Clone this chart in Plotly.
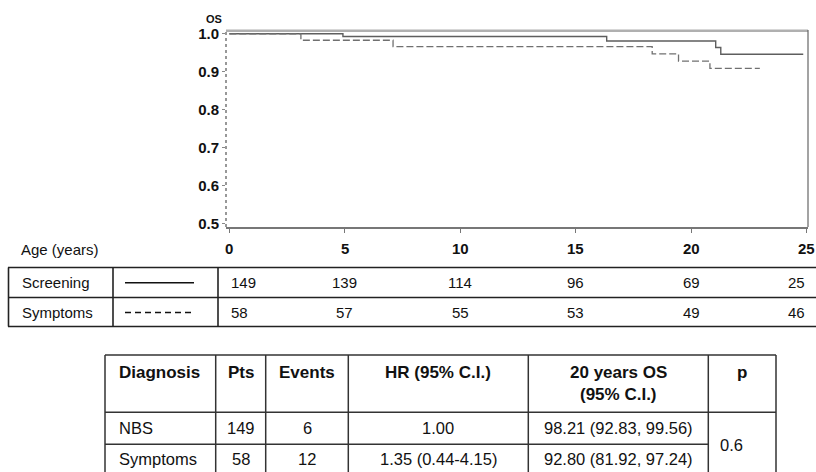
import plotly.graph_objects as go

# ---------------- data ----------------
screen_t = [0, 4.92, 16.34, 21.06, 21.28, 24.85]
screen_s = [1.0, 0.993, 0.981, 0.964, 0.946, 0.946]
sympt_t = [0, 3.1, 7.09, 18.31, 19.45, 20.81, 22.97]
sympt_s = [1.0, 0.983, 0.966, 0.947, 0.928, 0.909, 0.909]

risk_times = [0, 5, 10, 15, 20, 25]
risk_ticklabels = ["0", "5", "10", "15", "20", "25"]
risk_screen = [149, 139, 114, 96, 69, 25]
risk_sympt = [58, 57, 55, 53, 49, 46]
risk_groups = ["Screening", "Symptoms"]

y_ticks = [0.5, 0.6, 0.7, 0.8, 0.9, 1.0]
y_ticklabels = ["0.5", "0.6", "0.7", "0.8", "0.9", "1.0"]

tab_header = ["Diagnosis", "Pts", "Events", "HR (95% C.I.)", "20 years OS", "p"]
tab_header2 = ["", "", "", "", "(95% C.I.)", ""]
tab_diag = ["NBS", "Symptoms"]
tab_pts = ["149", "58"]
tab_events = ["6", "12"]
tab_hr = ["1.00", "1.35 (0.44-4.15)"]
tab_os20 = ["98.21 (92.83, 99.56)", "92.80 (81.92, 97.24)"]
tab_p = "0.6"

# ---------------- geometry helpers ----------------
W, H = 816, 472
PL, PR, PT, PB = 226, 808, 30, 227          # plot area in pixels
ML, MT = PL, PT
MR = W - PR
MB = H - PB
PW = PR - PL
PH = PB - PT
FONT = "Liberation Sans, Arial, sans-serif"


def px(X):
    return (X - PL) / PW


def py(Y):
    return (PB - Y) / PH


fig = go.Figure()
fig.add_trace(go.Scatter(x=screen_t, y=screen_s, mode="lines", line_shape="hv",
                         line=dict(color="#5e5e5e", width=1.4), showlegend=False,
                         name="Screening"))
fig.add_trace(go.Scatter(x=sympt_t, y=sympt_s, mode="lines", line_shape="hv",
                         line=dict(color="#707070", width=1.3, dash="7px,3px"),
                         showlegend=False, name="Symptoms"))

shapes = []
ann = []

# plot frame pieces
shapes.append(dict(type="line", xref="paper", yref="paper", x0=0, x1=1, y0=py(30.8), y1=py(30.8),
                   line=dict(color="#b0b0b0", width=2.4)))
shapes.append(dict(type="line", xref="paper", yref="paper", x0=1, x1=1, y0=0, y1=py(30),
                   line=dict(color="#666666", width=1.2)))
shapes.append(dict(type="line", xref="paper", yref="paper", x0=0, x1=0, y0=0, y1=py(30),
                   line=dict(color="#777777", width=1.5, dash="dot")))

ann.append(dict(text="<b>OS</b>", xref="paper", yref="paper", x=px(214), y=py(19),
                showarrow=False, xanchor="center", yanchor="middle",
                font=dict(family=FONT, size=11, color="#111")))

# x tick labels (placed on the x axis scale)
for t, lab in zip(risk_times, risk_ticklabels):
    ann.append(dict(text=lab, xref="x", yref="paper", x=t, y=py(248),
                    showarrow=False, xanchor="center", yanchor="middle",
                    font=dict(family=FONT, size=15, color="#111", weight="bold")))

# ---------------- risk table ----------------
rt_top, rt_mid, rt_bot = 267.5, 297.5, 326.5
for Y in (rt_top, rt_mid, rt_bot):
    shapes.append(dict(type="line", xref="paper", yref="paper", x0=px(8), x1=px(816),
                       y0=py(Y), y1=py(Y), line=dict(color="#222", width=1.6)))
for X in (8.5, 113, 218):
    shapes.append(dict(type="line", xref="paper", yref="paper", x0=px(X), x1=px(X),
                       y0=py(rt_top), y1=py(rt_bot), line=dict(color="#222", width=1.6)))

ann.append(dict(text="Age (years)", xref="paper", yref="paper", x=px(19), y=py(249),
                showarrow=False, xanchor="left", yanchor="middle",
                font=dict(family=FONT, size=15, color="#111")))

row_y = [282.8, 312.5]
for g, Yc in zip(risk_groups, row_y):
    ann.append(dict(text=g, xref="paper", yref="paper", x=px(20), y=py(Yc),
                    showarrow=False, xanchor="left", yanchor="middle",
                    font=dict(family=FONT, size=15, color="#111")))
shapes.append(dict(type="line", xref="paper", yref="paper", x0=px(125), x1=px(194),
                   y0=py(row_y[0]), y1=py(row_y[0]), line=dict(color="#111", width=1.6)))
shapes.append(dict(type="line", xref="paper", yref="paper", x0=px(125), x1=px(194),
                   y0=py(row_y[1]), y1=py(row_y[1]),
                   line=dict(color="#111", width=1.6, dash="6px,4px")))

for vals, Yc in ((risk_screen, row_y[0]), (risk_sympt, row_y[1])):
    for i, (t, v) in enumerate(zip(risk_times, vals)):
        anchor = "left" if i == 0 else ("right" if i == len(risk_times) - 1 else "center")
        ann.append(dict(text=str(v), xref="x", yref="paper", x=t, y=py(Yc),
                        showarrow=False, xanchor=anchor, yanchor="middle",
                        font=dict(family=FONT, size=15, color="#111")))

# ---------------- summary table ----------------
cols = [105, 215.7, 265.7, 348.3, 528.3, 708.3, 776]
t_top, t_head, t_sep, t_bot = 355, 412.3, 444.3, 490
for X in cols:
    shapes.append(dict(type="line", xref="paper", yref="paper", x0=px(X), x1=px(X),
                       y0=py(t_top), y1=py(t_bot), line=dict(color="#333", width=1.5)))
shapes.append(dict(type="line", xref="paper", yref="paper", x0=px(cols[0]), x1=px(cols[-1]),
                   y0=py(t_top), y1=py(t_top), line=dict(color="#333", width=1.5)))
shapes.append(dict(type="line", xref="paper", yref="paper", x0=px(cols[0]), x1=px(cols[-1]),
                   y0=py(t_head), y1=py(t_head), line=dict(color="#333", width=1.5)))
shapes.append(dict(type="line", xref="paper", yref="paper", x0=px(cols[0]), x1=px(cols[5]),
                   y0=py(t_sep), y1=py(t_sep), line=dict(color="#333", width=1.5)))

centers = [(cols[i] + cols[i + 1]) / 2 for i in range(len(cols) - 1)]
head_font = dict(family=FONT, size=17, color="#111", weight="bold")
body_font = dict(family=FONT, size=16.5, color="#111")

for i, (h1, h2) in enumerate(zip(tab_header, tab_header2)):
    if i == 0:
        xa, X = "left", 117
    else:
        xa, X = "center", centers[i]
    ann.append(dict(text=h1, xref="paper", yref="paper", x=px(X), y=py(372.5),
                    showarrow=False, xanchor=xa, yanchor="middle", font=head_font))
    if h2:
        ann.append(dict(text=h2, xref="paper", yref="paper", x=px(X), y=py(394),
                        showarrow=False, xanchor=xa, yanchor="middle", font=head_font))

body_y = [428.3, 459]
for r in range(2):
    Yc = body_y[r]
    ann.append(dict(text=tab_diag[r], xref="paper", yref="paper", x=px(117), y=py(Yc),
                    showarrow=False, xanchor="left", yanchor="middle", font=body_font))
    for ci, txt in ((1, tab_pts[r]), (2, tab_events[r]), (3, tab_hr[r]), (4, tab_os20[r])):
        ann.append(dict(text=txt, xref="paper", yref="paper", x=px(centers[ci]), y=py(Yc),
                        showarrow=False, xanchor="center", yanchor="middle", font=body_font))
ann.append(dict(text=tab_p, xref="paper", yref="paper", x=px(718), y=py(445),
                showarrow=False, xanchor="left", yanchor="middle", font=body_font))

# ---------------- axes / layout ----------------
XS = 23.096      # px per year
YS = 379.0       # px per unit survival
x0 = -3.3 / XS
x1 = x0 + PW / XS
y0 = 0.5 - 3.7 / YS
y1 = y0 + PH / YS

fig.update_layout(
    width=W, height=H,
    margin=dict(l=ML, r=MR, t=MT, b=MB, autoexpand=False),
    paper_bgcolor="white", plot_bgcolor="white",
    shapes=shapes, annotations=ann,
    xaxis=dict(range=[x0, x1], tickvals=risk_times, showticklabels=False,
               showgrid=False, zeroline=False, showline=True, linecolor="#777",
               linewidth=1.5, ticks="outside", ticklen=4, tickcolor="#777", tickwidth=1),
    yaxis=dict(range=[y0, y1], tickvals=y_ticks, ticktext=y_ticklabels,
               showgrid=False, zeroline=False, showline=False, ticks="outside",
               ticklen=3, tickcolor="#888", tickwidth=1,
               tickfont=dict(family=FONT, size=15, color="#111", weight="bold")),
)

fig.write_html("out.html", config={"displayModeBar": False},
               post_script="document.body.style.margin='0';document.body.style.overflow='hidden';")
